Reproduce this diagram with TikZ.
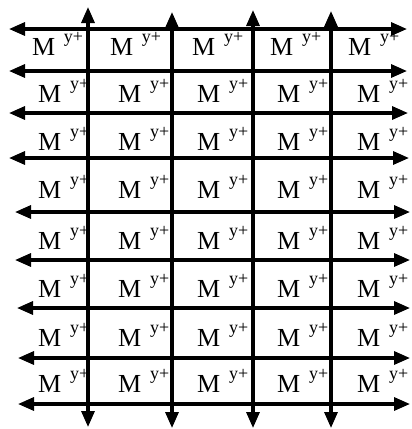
\documentclass[tikz,border=0pt]{standalone}
\usepackage{fontspec}
\setmainfont{Liberation Serif}
\usetikzlibrary{arrows.meta}
\newcommand{\mylab}{\makebox[32pt][l]{\fontsize{26}{26}\selectfont M}\raisebox{13pt}{\fontsize{18}{18}\selectfont y+}}
\tikzset{
  gridline/.style={line width=3.2pt, {Triangle[length=16pt,width=13pt]}-{Triangle[length=16pt,width=13pt]}},
  cell/.style={anchor=base west, inner sep=0pt, outer sep=0pt}
}
\begin{document}
\begin{tikzpicture}[x=1pt,y=-1pt]
\useasboundingbox (0,0) rectangle (412,429);
% labels
\foreach \x [count=\c] in {32,110,192,270,348}
  \node[cell] (l1\c) at (\x,55) {\mylab};
\foreach \y [count=\r from 2] in {102,150,198,249,297,346,392}
  \foreach \x [count=\c] in {38,118,197,277,357}
    \node[cell] (l\r\c) at (\x,\y) {\mylab};
% horizontal lines
\foreach \y/\l/\rr [count=\i] in {29/9/407,71/9/407,113/9/408,158/9/409,212/15/410,260/15/410,308/17/410,358/18/410,404/18/410}{
  \coordinate (hl\i) at (\l,\y);
  \coordinate (hr\i) at (\rr,\y);
  \draw[gridline] (hl\i) -- (hr\i);
}
% vertical lines
\foreach \x/\t/\b [count=\i] in {88/7/427,172/12/428,253/10/428,331/11/428}{
  \coordinate (vt\i) at (\x,\t);
  \coordinate (vb\i) at (\x,\b);
  \draw[gridline] (vb\i) -- (vt\i);
}
\end{tikzpicture}
\end{document}
